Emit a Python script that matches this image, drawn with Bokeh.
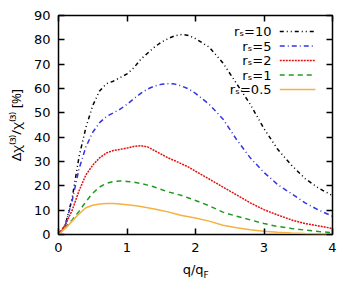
from bokeh.plotting import figure
from bokeh.models import Range1d, FixedTicker, LinearAxis, Label
from bokeh.embed import file_html
from bokeh.resources import INLINE

# ---- data ----
q = [0, 0.1, 0.2, 0.3, 0.4, 0.5, 0.6, 0.7, 0.8, 0.9, 1.0, 1.1, 1.2, 1.3, 1.4, 1.5,
     1.6, 1.7, 1.8, 1.9, 2.0, 2.2, 2.4, 2.6, 2.8, 3.0, 3.2, 3.4, 3.6, 3.8, 4.0]
rs10 = [0, 4, 15, 32, 44, 53, 59, 62, 63, 64.5, 66, 68.5, 72, 74.5, 77, 79,
        80.5, 81.7, 82.2, 81.8, 80.5, 77, 70.5, 62, 53.5, 43.5, 35, 28.5, 23, 19, 16]
rs5 = [0, 4, 14, 27, 36, 42, 46, 48.5, 50, 51.5, 53.5, 55.8, 58, 59.8, 61, 61.7,
       62, 61.8, 61, 59.8, 58, 53.5, 47.5, 39, 31.5, 25.5, 20.5, 16.8, 13, 10, 7.5]
rs2 = [0, 4, 10, 18, 24.5, 28.5, 31.5, 33.5, 34.5, 35, 35.5, 36.2, 36.5, 36, 34.5, 33,
       31.5, 30.3, 29, 27.7, 26, 22.8, 19.5, 16.3, 13, 10.2, 8, 6, 4.5, 3.5, 2.5]
rs1 = [0, 3, 6, 9.5, 13.5, 17, 19.5, 21, 21.8, 22, 21.8, 21.5, 21, 20.3, 19.5, 18.5,
       17.5, 16.8, 16, 15, 14, 11.8, 9.2, 7.5, 6, 4.5, 3.3, 2.5, 1.8, 1.2, 0.8]
rs05 = [0, 2.5, 5.5, 8.5, 11, 12, 12.5, 12.7, 12.7, 12.5, 12.2, 11.9, 11.5, 11, 10.5, 9.9,
        9.3, 8.5, 7.8, 7.3, 6.8, 5.5, 3.8, 2.8, 2.0, 1.3, 0.9, 0.6, 0.4, 0.3, 0.2]

series_labels = ["r\u209b=10", "r\u209b=5", "r\u209b=2", "r\u209b=1", "r\u209b=0.5"]
x_ticks = [0, 1, 2, 3, 4]
y_ticks = [0, 10, 20, 30, 40, 50, 60, 70, 80, 90]

FONT = "DejaVu Sans"
FS = "13px"

p = figure(width=356, height=295, output_backend="svg", toolbar_location=None,
           x_range=Range1d(0, 4), y_range=Range1d(0, 90),
           min_border_left=58, min_border_right=24, min_border_top=15,
           min_border_bottom=61, x_axis_location=None, y_axis_location=None)
p.xgrid.visible = False
p.ygrid.visible = False
p.outline_line_color = "black"
p.outline_line_width = 1.5
p.background_fill_color = "white"
p.border_fill_color = "white"


def style_axis(ax, ticks, labels=True):
    ax.ticker = FixedTicker(ticks=ticks)
    ax.axis_line_color = None
    ax.major_tick_in = 6
    ax.major_tick_out = 0
    ax.major_tick_line_width = 1.5
    ax.major_tick_line_color = "black"
    ax.minor_tick_line_color = None
    ax.major_label_text_font = FONT
    ax.major_label_text_font_size = FS
    ax.major_label_text_color = "black"
    if not labels:
        ax.major_label_overrides = {t: "" for t in ticks}
        ax.major_label_standoff = 0


left = LinearAxis()
style_axis(left, y_ticks)
left.major_label_standoff = 8
left.axis_label = "\u0394\u03c7\u207d\u00b3\u207e/\u03c7\u207d\u00b3\u207e [%]"
left.axis_label_text_font = "Noto Sans"
left.axis_label_text_font_size = FS
left.axis_label_text_font_style = "normal"
left.axis_label_text_color = "black"
left.axis_label_standoff = 6
p.add_layout(left, "left")

below = LinearAxis()
style_axis(below, x_ticks)
below.major_label_standoff = 8
p.add_layout(below, "below")

right = LinearAxis()
style_axis(right, y_ticks, labels=False)
p.add_layout(right, "right")

above = LinearAxis()
style_axis(above, x_ticks, labels=False)
p.add_layout(above, "above")

# ---- curves ----
styles = [
    (rs10, "#000000", "4 3 1 3 1 3"),
    (rs5, "#3434e6", "5 3 1 3"),
    (rs2, "#e01010", "2 1"),
    (rs1, "#1f9a1f", "5 4"),
    (rs05, "#f5b240", "solid"),
]
for ys, col, dash in styles:
    p.line(q, ys, line_color=col, line_width=1.5, line_dash=dash)

# ---- legend (gnuplot style: label then sample) ----
leg_text_x = 3.11
leg_x0, leg_x1 = 3.23, 3.75
leg_top = 83.4
leg_step = 5.96
for i, ((ys, col, dash), lab) in enumerate(zip(styles, series_labels)):
    yy = leg_top - i * leg_step
    p.line([leg_x0, leg_x1], [yy, yy], line_color=col, line_width=1.5, line_dash=dash)
    p.add_layout(Label(x=leg_text_x, y=yy, text=lab, text_align="right",
                       text_baseline="middle", text_font=FONT, text_font_size=FS,
                       text_color="black"))

# ---- x axis label q/q_F (placed in the bottom panel) ----
p.add_layout(Label(x=2.117, y=0, y_units="screen", text="q/q", text_align="right",
                   text_baseline="middle", text_font=FONT, text_font_size=FS,
                   text_color="black"), "below")
p.add_layout(Label(x=2.117, y=4.5, y_units="screen", text="F", text_align="left",
                   text_baseline="middle", text_font=FONT, text_font_size="9px",
                   text_color="black"), "below")

open("out.html", "w").write(file_html(p, INLINE))
